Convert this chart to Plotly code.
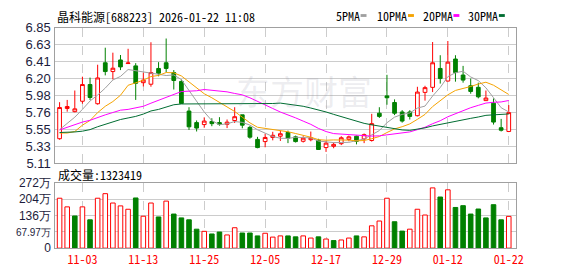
import numpy as np
import plotly.graph_objects as go

# ---------------- data ----------------
dates = ["10-29","10-30","10-31","11-03","11-04","11-05","11-06","11-07","11-10","11-11",
         "11-12","11-13","11-14","11-17","11-18","11-19","11-20","11-21","11-24","11-25",
         "11-26","11-27","11-28","12-01","12-02","12-03","12-04","12-05","12-08","12-09",
         "12-10","12-11","12-12","12-15","12-16","12-17","12-18","12-19","12-22","12-23",
         "12-24","12-25","12-26","12-29","12-30","12-31","01-05","01-06","01-07","01-08",
         "01-09","01-12","01-13","01-14","01-15","01-16","01-19","01-20","01-21","01-22"]

opens = [5.423,5.812,5.771,5.905,6.120,5.873,6.400,6.287,6.436,6.390,
         6.360,6.144,6.124,6.327,6.400,6.274,6.160,5.779,5.630,5.605,
         5.645,5.630,5.608,5.657,5.730,5.569,5.414,5.386,5.439,5.455,
         5.503,5.447,5.390,5.410,5.405,5.309,5.325,5.359,5.414,5.455,
         5.420,5.400,5.751,5.974,5.889,5.767,5.767,5.719,6.019,6.084,
         6.327,6.165,6.448,6.242,6.104,6.084,5.913,5.880,5.564,5.516]
highs = [5.893,5.922,6.043,6.221,6.209,6.375,6.594,6.530,6.500,6.580,
         6.395,6.274,6.664,6.408,6.712,6.306,6.185,5.828,5.658,5.698,
         5.686,5.700,5.670,5.828,5.730,5.589,5.447,5.487,5.512,5.527,
         5.527,5.463,5.455,5.515,5.422,5.394,5.374,5.455,5.463,5.463,
         5.490,5.743,5.828,6.245,5.929,5.791,5.790,6.091,6.104,6.667,
         6.497,6.680,6.497,6.360,6.197,6.144,6.043,5.942,5.678,5.856]
lows = [5.410,5.771,5.763,5.873,5.922,5.861,6.238,6.185,6.306,6.390,
        5.922,6.095,6.092,6.226,6.278,6.056,5.877,5.536,5.516,5.564,
        5.584,5.590,5.560,5.625,5.557,5.423,5.300,5.313,5.402,5.394,
        5.366,5.374,5.374,5.390,5.280,5.253,5.300,5.341,5.390,5.350,
        5.366,5.386,5.690,5.860,5.727,5.630,5.670,5.710,5.913,6.023,
        6.132,6.157,6.157,6.144,6.002,5.942,5.913,5.605,5.516,5.508]
closes = [5.824,5.837,5.807,6.120,5.953,6.205,6.287,6.330,6.347,6.397,
          6.136,6.177,6.274,6.266,6.327,6.172,5.877,5.576,5.560,5.650,
          5.617,5.610,5.636,5.706,5.597,5.443,5.309,5.439,5.467,5.487,
          5.430,5.386,5.430,5.435,5.284,5.366,5.350,5.435,5.447,5.390,
          5.475,5.617,5.710,5.950,5.751,5.650,5.710,6.023,6.080,6.400,
          6.197,6.408,6.274,6.177,6.031,5.962,5.946,5.637,5.532,5.759]
volumes_wan = [208,172,134,172,118,208,227,188,176,162,
               209,133,188,130,196,142,126,118,79,70,
               59,67,55,85,63,63,51,62,46,51,
               51,47,51,42,47,38,31.5,34,42,51,
               47,93,113,208,110,71,79,162,138,251,
               213,243,169.5,177,142,163,126,181,118,132.3419]

ma5_head = [5.54,5.62,5.70,5.80]
ma10_head = [5.496,5.496,5.516,5.597,5.658,5.759,5.840,5.901,5.982]
ma20_head = [5.536,5.57,5.60,5.637,5.66,5.70,5.73,5.76,5.79,5.80,
             5.82,5.84,5.88,5.92,5.96,5.99,6.03,6.035,6.04]
ma30_head = [5.503,5.503,5.51,5.52,5.54,5.577,5.61,5.64,5.67,5.69,
             5.71,5.74,5.78,5.80,5.83,5.86,5.87,5.87,5.87,5.87,
             5.87,5.87,5.868,5.868,5.87,5.87,5.87,5.872,5.876]

price_tick_text = ["5.11","5.33","5.55","5.76","5.98","6.20","6.41","6.63","6.85"]
price_min, price_max = 5.11, 6.85
vol_tick_text = ["0","<span style='font-size:10px'>67.97万</span>","136万","204万","272万"]
vol_max = 2718800
tick_dates = ["11-03","11-13","11-25","12-05","12-17","12-29","01-12","01-22"]
title_text = "晶科能源[688223] 2026-01-22 11:08"
vol_title = "成交量:1323419"
ma_names = ["5PMA","10PMA","20PMA","30PMA"]
ma_colors = ["#a0a0a0","#f5a300","#ff00ff","#006d32"]

# ---------------- derived ----------------
n = len(dates)
xs = list(range(n))
volumes = [v * 10000 for v in volumes_wan]
closes_arr = np.array(closes)

def ma(head, w):
    vals = list(head)
    for i in range(w - 1, n):
        vals.append(float(closes_arr[i - w + 1:i + 1].mean()))
    return vals

mas = [ma(ma5_head, 5), ma(ma10_head, 10), ma(ma20_head, 20), ma(ma30_head, 30)]

RED = "#ff0000"
GREEN = "#008000"
vol_up = [True] + [closes[i] >= closes[i - 1] for i in range(1, n)]
vol_fill = ["#ffffff" if u else GREEN for u in vol_up]
vol_line = [RED if u else GREEN for u in vol_up]

tick_idx = [dates.index(d) for d in tick_dates]

W, H = 578, 276
def px(x):
    return x / W
def py(y):
    return 1 - y / H

FONT = "Noto Sans Mono CJK SC, Noto Sans CJK SC, monospace"
NUMFONT = "Liberation Sans, Arial, sans-serif"

fig = go.Figure()

fig.add_trace(go.Candlestick(
    x=xs, open=opens, high=highs, low=lows, close=closes,
    increasing=dict(line=dict(color=RED, width=1), fillcolor="#ffffff"),
    decreasing=dict(line=dict(color=GREEN, width=1), fillcolor=GREEN),
    whiskerwidth=0, xaxis="x", yaxis="y", hoverinfo="skip"))

for vals, col in zip(mas, ma_colors):
    fig.add_trace(go.Scatter(x=xs, y=vals, mode="lines",
                             line=dict(color=col, width=1),
                             xaxis="x", yaxis="y", hoverinfo="skip"))

fig.add_trace(go.Bar(x=xs, y=volumes, width=0.6,
                     marker=dict(color=vol_fill, line=dict(color=vol_line, width=1)),
                     xaxis="x2", yaxis="y2", hoverinfo="skip"))

xdom = [px(56), px(522.7)]
axis_common = dict(showline=True, mirror=True, linecolor="#a0a0a0", linewidth=1,
                   zeroline=False, ticks="", fixedrange=True)

fig.update_layout(
    width=W, height=H, margin=dict(l=0, r=0, t=0, b=0),
    paper_bgcolor="white", plot_bgcolor="white", showlegend=False,
    font=dict(family=FONT, size=12, color="#000"),
    xaxis=dict(domain=xdom, range=[-0.56, 60.0], anchor="y",
               tickvals=tick_idx, showticklabels=False,
               showgrid=True, gridcolor="#cccccc", griddash="dash", gridwidth=1,
               rangeslider=dict(visible=False), **axis_common),
    yaxis=dict(domain=[py(165), py(22)], range=[price_min, price_max], anchor="x",
               tickvals=list(np.linspace(price_min, price_max, len(price_tick_text))),
               ticktext=price_tick_text,
               tickfont=dict(family=NUMFONT, size=13, color="#1c1c3c"),
               showgrid=True, gridcolor="#cccccc", gridwidth=1, ticklabelstandoff=1,
               **axis_common),
    xaxis2=dict(domain=xdom, range=[-0.56, 60.0], anchor="y2", matches="x",
                tickvals=tick_idx, ticktext=tick_dates,
                tickfont=dict(family=FONT, size=12, color=RED),
                showgrid=True, gridcolor="#cccccc", griddash="dash", gridwidth=1,
                **axis_common),
    yaxis2=dict(domain=[py(255), py(186)], range=[0, vol_max], anchor="x2",
                tickvals=list(np.linspace(0, vol_max, len(vol_tick_text))),
                ticktext=vol_tick_text,
                tickfont=dict(family=NUMFONT, size=12, color="#1c1c3c"),
                showgrid=True, gridcolor="#cccccc", gridwidth=1, ticklabelstandoff=1,
                **axis_common),
)

annotations = [
    dict(text=title_text, x=px(56), y=py(10), xref="paper", yref="paper",
         xanchor="left", yanchor="middle", showarrow=False,
         font=dict(family=FONT, size=12, color="#000")),
    dict(text=vol_title, x=px(57), y=py(177), xref="paper", yref="paper",
         xanchor="left", yanchor="middle", showarrow=False,
         font=dict(family=FONT, size=12, color="#000")),
    dict(text="东方财富", x=px(308), y=py(88), xref="paper", yref="paper",
         xanchor="center", yanchor="middle", showarrow=False,
         font=dict(family="Noto Sans CJK SC", size=34, color="rgba(140,140,165,0.16)")),
]
# legend texts and swatches
leg_x = [338, 380, 426, 472]
sw_x = [365, 413, 459, 505]
shapes = []
for name, col, lx, sx in zip(ma_names, ma_colors, leg_x, sw_x):
    annotations.append(dict(text=name, x=px(lx), y=py(9), xref="paper", yref="paper",
                            xanchor="left", yanchor="middle", showarrow=False,
                            font=dict(family=FONT, size=12, color="#000")))
    shapes.append(dict(type="rect", xref="paper", yref="paper",
                       x0=px(sx), x1=px(sx + 6), y0=py(10.5), y1=py(7.5),
                       fillcolor=col, line=dict(width=0)))

fig.update_layout(annotations=annotations, shapes=shapes)

fig.write_html("out.html")
